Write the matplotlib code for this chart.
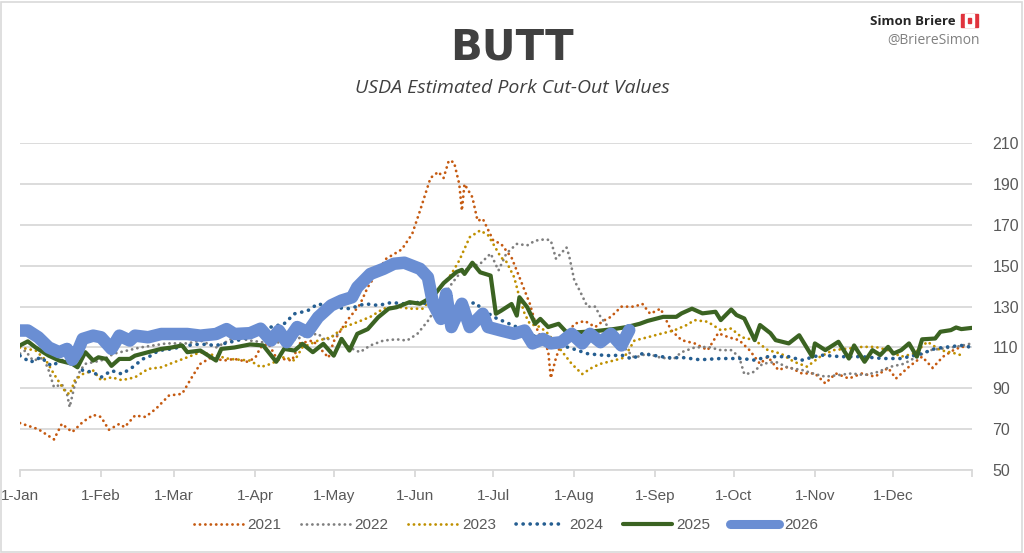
import matplotlib.pyplot as plt
from matplotlib.patches import Rectangle
import numpy as np

# day-of-year, value pairs
y2021 = [(0, 73), (7, 70), (13, 65), (16, 72.6), (20, 68.6), (24, 73.5), (28, 77), (31, 76), (34, 69.7),
         (38, 72.6), (40, 71), (44, 76.7), (48, 76), (52, 80), (57, 86.5), (62, 87.3), (66, 96), (69, 102),
         (73, 105), (78, 103.6), (82, 104.4), (87, 103), (90, 105), (92, 110), (95, 112), (98, 105),
         (104, 103.6), (107, 112), (112, 113.4), (118, 105), (120, 113), (125, 123), (130, 131), (133, 139.5),
         (140, 153.4), (146, 158), (150, 165.6), (153, 177), (157, 193), (160, 196), (162, 193), (164, 201.5),
         (166, 200.7), (168, 190), (169, 177), (170, 190), (173, 183.6), (175, 172), (177, 173), (181, 162.4),
         (184, 160.7), (188, 154), (191, 144.4), (195, 131.4), (198, 118), (202, 108.5), (203, 95), (205, 105),
         (207, 112), (212, 121.6), (216, 123), (220, 120), (223, 123), (226, 125), (230, 130), (235, 130),
         (238, 131.4), (241, 126.5), (245, 129), (249, 118.5), (253, 113.6), (258, 112), (263, 108.7),
         (267, 117), (271, 115), (275, 113.6), (279, 108.7), (283, 102), (286, 105.5), (290, 99), (294, 100.6),
         (299, 97.3), (304, 97.3), (308, 92.4), (312, 97.3), (317, 94.8), (322, 97.3), (327, 95.7), (332, 100),
         (335, 94.8), (340, 100.6), (345, 105.5), (349, 100), (353, 105.5), (357, 108.7), (360, 110.3),
         (364, 110.3)]

y2022 = [(0, 107), (2, 108.5), (5, 103.6), (9, 105), (11, 98.7), (13, 90.6), (16, 92), (18, 87.3), (19, 80.8),
         (21, 92), (23, 98.7), (25, 102), (31, 103.6), (36, 107), (41, 108.5), (46, 110), (56, 112), (64, 112),
         (69, 113.4), (75, 110), (82, 115), (88, 113.4), (96, 112), (104, 113.4), (110, 116), (114, 116.7),
         (117, 113.4), (121, 116.7), (126, 110), (130, 107.7), (134, 111), (139, 113.4), (144, 114),
         (148, 113.4), (152, 116.7), (156, 123), (160, 131.4), (165, 141), (168, 146), (172, 149.3),
         (176, 151), (180, 156), (183, 147.7), (186, 156), (190, 160.7), (194, 160), (197, 162.3), (201, 163),
         (203, 162.4), (205, 153.4), (209, 159), (210, 155), (212, 142.8), (214, 138), (217, 130), (220, 130),
         (222, 125), (225, 120), (227, 113.4), (231, 110), (235, 105), (240, 107), (245, 105), (250, 104.4),
         (253, 107.7), (258, 110), (263, 110.3), (268, 108.7), (272, 108.7), (275, 105.5), (277, 97),
         (280, 97.5), (284, 102), (289, 103), (294, 100), (299, 99), (304, 97), (308, 95.7), (313, 96.5),
         (318, 97.3), (323, 96.5), (328, 98), (333, 100.6), (338, 102), (343, 105.5), (348, 108.7),
         (353, 109.5), (358, 110.3), (364, 112)]

y2023 = [(0, 110), (6, 108.5), (10, 103.6), (13, 97), (17, 89), (19, 87), (21, 94), (24, 97), (28, 98.7),
         (31, 94), (35, 95.4), (39, 94), (44, 95.4), (49, 99.5), (54, 100.3), (59, 102.8), (64, 105.2),
         (69, 107.7), (75, 106), (80, 104.4), (88, 103.6), (92, 100.4), (96, 102), (101, 105.3), (105, 103.6),
         (108, 110), (114, 113.4), (119, 115), (124, 120), (129, 122.4), (134, 125), (139, 129), (144, 130),
         (149, 129), (154, 129), (160, 138), (165, 146), (168, 152.6), (172, 164), (176, 167.3), (179, 165),
         (181, 160.7), (184, 154), (186, 152), (189, 144.4), (191, 134.6), (193, 126.5), (195, 121.6),
         (199, 120), (202, 116.7), (207, 108.5), (211, 102), (215, 97), (219, 100.3), (222, 102), (227, 103.6),
         (231, 105), (235, 113.4), (240, 115), (245, 116.7), (250, 118.3), (255, 121), (258, 123.4),
         (263, 122.6), (268, 118.5), (272, 119.3), (276, 115), (281, 113.6), (286, 108.7), (291, 107),
         (296, 103), (301, 100.6), (306, 105.5), (311, 108.7), (317, 109.5), (322, 110.3), (327, 110.3),
         (332, 108.7), (337, 105.5), (342, 107), (347, 112.8), (352, 108.7), (358, 107), (361, 105.8)]

y2024 = [(0, 106), (4, 102.8), (8, 105.2), (12, 101), (16, 103.6), (21, 105.2), (24, 98.7), (28, 97.9),
         (31, 95.4), (35, 98.7), (39, 97), (43, 100.3), (47, 104.4), (49, 105.2), (53, 108.5), (58, 109.3),
         (64, 111), (69, 111.7), (75, 111), (80, 112.5), (88, 115), (96, 120), (101, 121.6), (105, 126.5),
         (110, 128), (114, 131.4), (119, 129.7), (126, 129), (132, 131.4), (137, 130.6), (142, 132),
         (147, 131.4), (152, 132), (160, 131), (168, 130), (174, 132), (176, 129.7), (181, 125), (190, 120),
         (196, 116), (203, 112), (210, 110), (217, 107), (222, 106.3), (226, 106), (230, 106.3), (234, 104.4),
         (238, 107), (243, 106), (248, 105), (254, 105), (260, 104), (268, 104.6), (276, 104.6), (281, 103.8),
         (286, 105.5), (294, 105.5), (299, 103.8), (306, 106.3), (314, 105.5), (322, 105.5), (330, 104.6),
         (337, 104.6), (345, 107), (350, 109.5), (355, 110.3), (360, 111), (363, 110.3)]

y2025 = [(0, 111), (3, 113), (6, 110), (11, 106), (15, 103.6), (20, 102), (22, 100.3), (25, 107.7), (28, 103.6),
         (30, 105.2), (33, 104.4), (35, 101), (38, 104.4), (42, 104.4), (44, 106), (49, 107.7), (54, 109.3),
         (58, 110), (62, 111), (64, 107.7), (69, 108.5), (75, 103.6), (77, 109.3), (82, 110), (88, 111.5),
         (93, 111), (98, 103), (101, 109.3), (105, 108.5), (108, 111.8), (112, 107.7), (116, 111.8), (120, 106),
         (123, 114.2), (126, 108.5), (129, 116.7), (133, 119), (137, 124.8), (141, 129), (144, 129.7),
         (149, 132.2), (153, 131.4), (158, 135), (162, 141.5), (167, 147), (169, 148), (170, 146), (173, 151.5),
         (176, 146.8), (180, 145.2), (182, 126.5), (184, 128), (188, 131.3), (190, 125.6), (191, 134.6),
         (194, 129.7), (197, 121.6), (199, 124), (202, 120), (206, 121.6), (209, 117.5), (214, 117.5),
         (220, 118), (227, 119), (232, 120), (237, 121.6), (240, 123), (246, 125), (251, 125), (253, 126.7),
         (257, 129), (261, 126.7), (266, 127.5), (268, 123.4), (272, 128.6), (274, 125.9), (277, 124.2),
         (281, 113.6), (283, 121), (287, 117), (289, 113.6), (294, 112), (298, 116), (303, 105.5), (304, 112),
         (308, 108.7), (313, 112.8), (317, 104.6), (319, 111), (323, 103), (326, 108.7), (329, 106.3),
         (332, 110.3), (334, 107), (337, 108.7), (340, 112), (343, 105.5), (345, 114), (350, 114.4),
         (352, 117.7), (356, 118.5), (358, 119.8), (360, 119), (364, 119.6)]

y2026 = [(0, 118.3), (3, 118.3), (7, 115), (11, 110), (15, 107.7), (18, 109.3), (20, 104), (22, 108),
         (24, 114.2), (28, 115.8), (31, 115), (35, 109.3), (38, 115.8), (42, 113.4), (44, 115.8), (49, 115),
         (54, 116.6), (59, 116.6), (64, 116.6), (69, 115.8), (75, 116.6), (79, 119), (82, 116.6), (88, 117),
         (92, 119.2), (96, 113.4), (99, 118.3), (102, 112.6), (106, 120), (110, 117.5), (114, 124.8),
         (119, 130.6), (123, 133), (127, 134.6), (129, 139.5), (134, 146), (139, 148.5), (143, 151),
         (147, 151.5), (150, 150), (153, 148.5), (156, 144.4), (158, 131.4), (161, 124), (163, 136.3),
         (165, 120), (169, 131.4), (172, 120), (177, 126.5), (179, 120), (184, 118.3), (189, 116.7),
         (193, 118.3), (196, 112), (200, 114.2), (203, 112), (207, 112.6), (211, 116.7), (215, 112),
         (218, 116.7), (222, 112.6), (226, 116.7), (230, 111), (233, 118.5)]

month_days = [0, 31, 59, 90, 120, 151, 181, 212, 243, 273, 304, 334]
month_labels = ['1-Jan', '1-Feb', '1-Mar', '1-Apr', '1-May', '1-Jun', '1-Jul',
                '1-Aug', '1-Sep', '1-Oct', '1-Nov', '1-Dec']

series = [
    ('2021', y2021, '#C55A11', 2.0, 'dot'),
    ('2022', y2022, '#7F7F7F', 2.0, 'dot'),
    ('2023', y2023, '#BF9000', 2.0, 'dot'),
    ('2024', y2024, '#255E91', 2.6, 'dot'),
    ('2025', y2025, '#3B6322', 3.0, 'solid'),
    ('2026', y2026, '#6A8ED3', 9.0, 'solid'),
]

plt.rcParams['font.family'] = ['Liberation Sans', 'DejaVu Sans']

fig = plt.figure(figsize=(10.24, 5.53), dpi=100)
ax = fig.add_axes([0.0195, 0.150, 0.9295, 0.591])

for name, pts, color, lw, style in series:
    d = [p[0] for p in pts]
    v = [p[1] for p in pts]
    if style == 'dot':
        ax.plot(d, v, color=color, lw=lw, linestyle=(0, (0.05, 1.9)),
                dash_capstyle='round', label=name)
    else:
        ax.plot(d, v, color=color, lw=lw, solid_capstyle='round',
                solid_joinstyle='round', label=name)

ax.set_xlim(0, 364)
ax.set_ylim(50, 210)
ax.set_yticks(np.arange(50, 211, 20))
ax.grid(axis='y', color='#D9D9D9', lw=1.3)
ax.set_axisbelow(True)
ax.yaxis.tick_right()
ax.tick_params(axis='y', length=0, pad=15, labelsize=11.5, labelcolor='#595959')
ax.set_xticks(month_days + [364])
ax.set_xticklabels(month_labels + [''])
ax.tick_params(axis='x', length=5, color='#D9D9D9', width=1.3, pad=9,
               labelsize=11, labelcolor='#595959')
for s in ['top', 'left', 'right']:
    ax.spines[s].set_visible(False)
ax.spines['bottom'].set_color('#D9D9D9')
ax.spines['bottom'].set_linewidth(1.3)

handles, labels = ax.get_legend_handles_labels()
leg = fig.legend(handles, labels, loc='center', bbox_to_anchor=(0.494, 0.05), ncol=6,
                 frameon=False, fontsize=11, handlelength=3.2, columnspacing=1.3,
                 handletextpad=0.3)
for t in leg.get_texts():
    t.set_color('#595959')
leg.get_lines()[-1].set_linewidth(6.5)

fig.text(0.5, 0.915, 'BUTT', ha='center', va='center', fontsize=30,
         fontweight='bold', color='#404040', family=['DejaVu Sans'])
fig.text(0.5, 0.84, 'USDA Estimated Pork Cut-Out Values', ha='center', va='center',
         fontsize=14, style='italic', color='#404040', family=['Open Sans', 'DejaVu Sans'])

fig.text(0.933, 0.962, 'Simon Briere', ha='right', va='center', fontsize=9.5,
         fontweight='bold', color='#262626', family=['Open Sans', 'DejaVu Sans'])
fig.text(0.957, 0.927, '@BriereSimon', ha='right', va='center', fontsize=10,
         color='#808080', family=['Open Sans', 'DejaVu Sans'])
# little Canadian flag
fx, fy, fw, fh = 0.938, 0.952, 0.0175, 0.022
fig.patches.append(Rectangle((fx, fy), fw, fh, transform=fig.transFigure, color='#E0323C'))
fig.patches.append(Rectangle((fx + fw * 0.27, fy), fw * 0.46, fh, transform=fig.transFigure,
                             color='white'))
fig.patches.append(Rectangle((fx + fw * 0.42, fy + fh * 0.3), fw * 0.16, fh * 0.4,
                             transform=fig.transFigure, color='#E0323C'))

fig.patches.append(Rectangle((0.001, 0.002), 0.997, 0.995, transform=fig.transFigure,
                             fill=False, edgecolor='#D9D9D9', lw=1.2))

fig.savefig('out.png', dpi=100)
